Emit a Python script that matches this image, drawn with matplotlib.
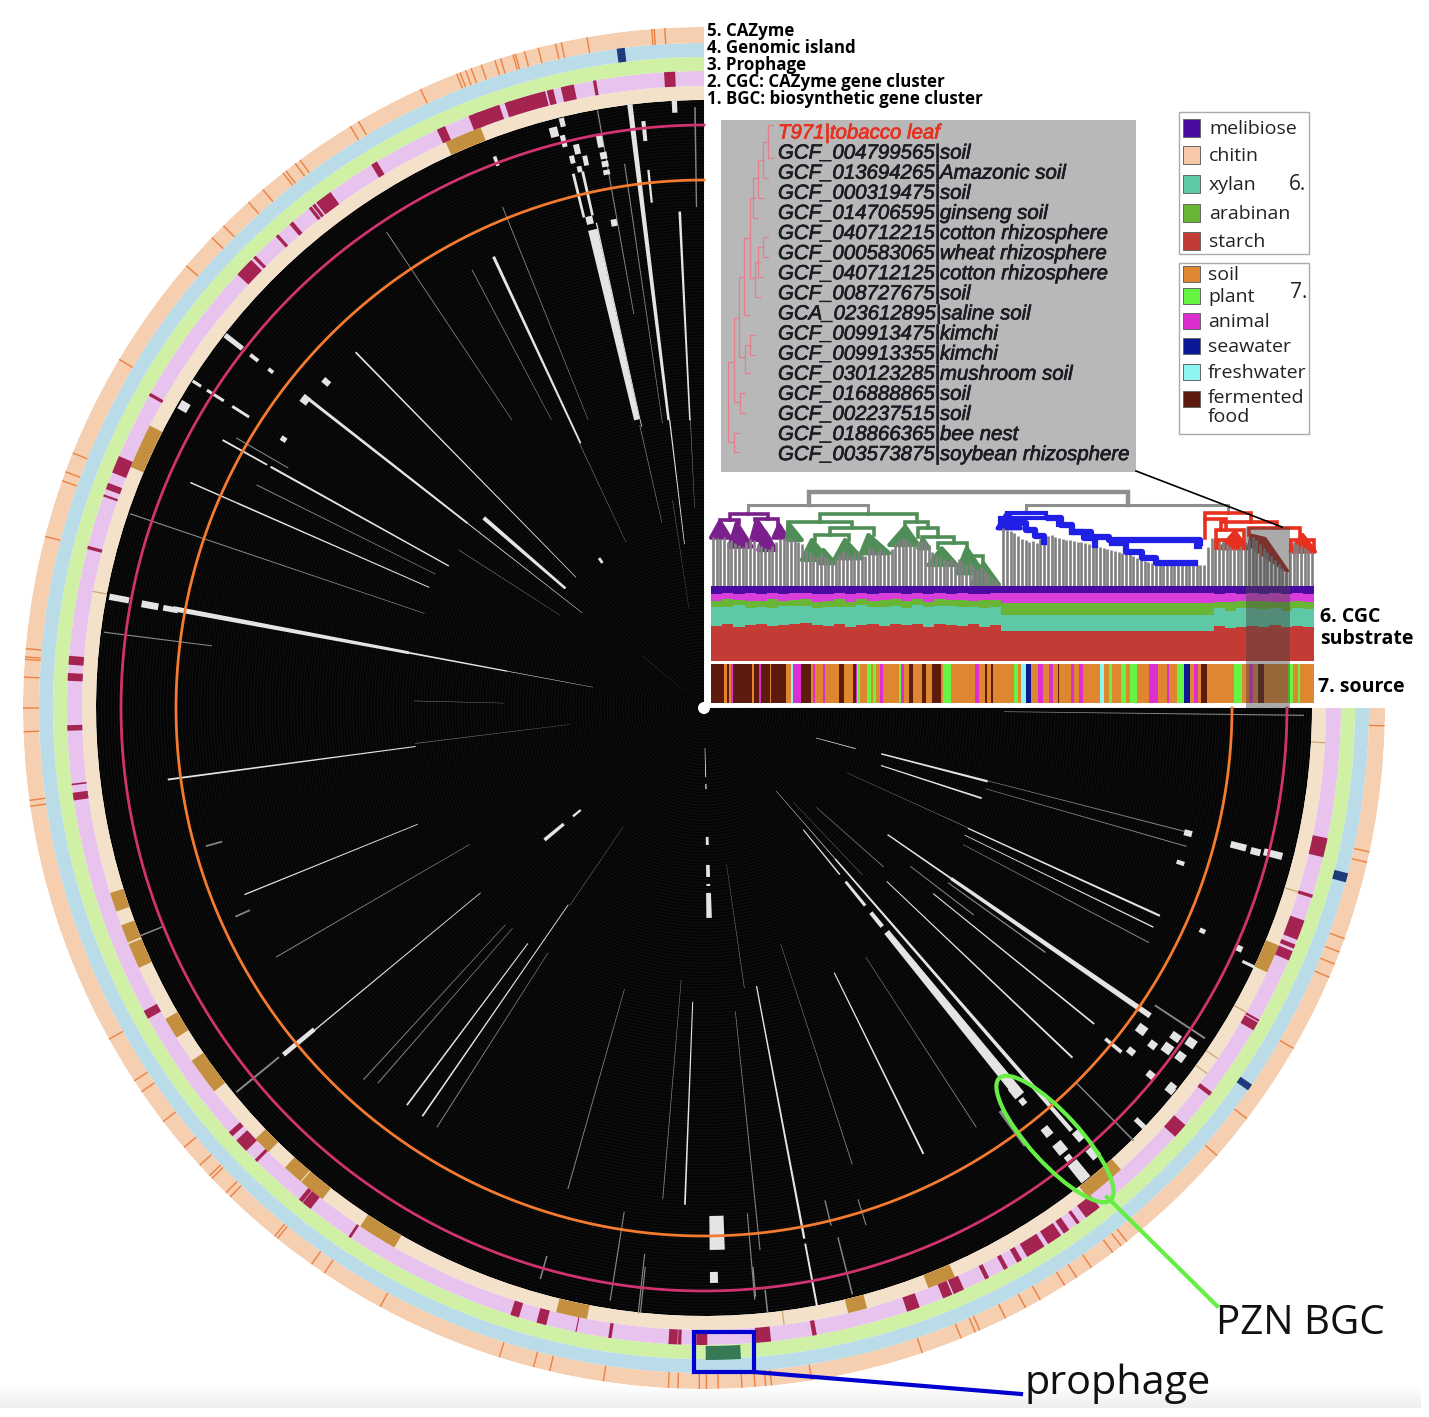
import numpy as np
import matplotlib
matplotlib.use('Agg')
import matplotlib.pyplot as plt
import matplotlib.patheffects as pe
from matplotlib.patches import Ellipse, Rectangle

# figure geometry (reference pixels)
W, H = 1429, 1417
CX, CY, RMAX = 704, 708, 681

# ring radii, inner to outer
ring_edges = [608, 622, 637, 651, 665, 681]
ring_colors = ['#F3E2C9', '#E8C3EE', '#D0F0A5', '#B9DCE8', '#F5CFB0']

# ring marks: angle (deg counter-clockwise from top) and angular width
bgc_angle = [3.1, 9.9, 12.4, 14.0, 16.2, 18.0, 19.0, 20.2, 21.2, 24.4, 31.2, 36.7, 37.8, 38.2, 40.4, 42.1, 44.9, 46.2,
             60.5, 67.5, 69.6, 70.5, 75.4, 85.7, 87.2, 91.8, 96.9, 98.0, 118.8, 132.0, 133.4, 135.3, 140.7, 141.4, 146.2,
             162.7, 165.2, 168.4, 171.5, 177.2, 177.8, 179.8, 185.2, 185.8, 190.0, 199.2, 202.5, 203.2, 203.6, 206.4,
             208.3, 209.7, 211.4, 213.4, 214.7, 216.0, 217.5, 218.1, 228.4, 232.7, 240.0, 240.6, 247.1, 248.0, 249.4,
             250.3, 252.8, 257.2, 258.0]
bgc_width = [1.0, 0.3, 1.2, 0.6, 3.5, 0.5, 0.5, 2.0, 1.0, 0.8, 0.6, 1.6, 0.3, 0.3, 0.4, 0.3, 0.3, 1.8,
             0.3, 1.6, 0.6, 0.2, 0.3, 0.8, 0.7, 0.5, 0.15, 0.7, 0.8, 0.5, 1.3, 0.3, 0.4, 0.9, 0.25,
             0.8, 0.9, 0.1, 0.3, 0.8, 0.3, 1.0, 1.0, 0.5, 0.4, 1.2, 0.9, 0.2, 1.0, 0.4,
             0.4, 0.5, 1.8, 1.4, 0.6, 0.3, 1.3, 0.6, 1.4, 0.4, 0.8, 0.2, 0.9, 0.4, 1.5,
             0.4, 0.3, 1.5, 0.4]
cgc_angle = [22.8, 65.1, 108.2, 111.3, 113.5, 121.0, 126.3, 134.7, 138.6, 140.9, 148.3, 167.7, 194.3, 201.5, 202.8,
             220.1, 246.2]
cgc_width = [3.5, 4.2, 1.8, 1.7, 2.4, 2.0, 3.5, 1.7, 1.9, 2.5, 3.7, 2.9, 1.8, 0.7, 2.0, 4.0, 2.7]
cgc_thin = [79.2, 187.4, 234.0, 235.7, 240.7, 252.8, 266.8]
prophage_angle = [181.7]
prophage_width = [3.1]
island_angle = [7.2, 235.2, 255.2]
island_width = [0.7, 0.6, 0.8]
cazyme_ticks = [3.3, 4.2, 4.4, 9.9, 12.1, 12.6, 14.1, 15.3, 16.1, 16.3, 17.4, 17.9, 19.1, 20.0, 20.5, 21.0, 21.3, 24.6,
                30.5, 31.3, 36.4, 36.9, 37.9, 38.2, 40.4, 42.0, 44.9, 46.3, 49.5, 59.2, 68.0, 69.7, 70.5, 75.4, 85.0,
                85.7, 85.9, 87.4, 90.0, 92.0, 97.8, 98.3, 119.1, 123.2, 124.3, 127.4, 130.2, 132.2, 133.4, 133.7, 135.4,
                135.9, 140.9, 141.2, 144.8, 146.1, 151.6, 162.5, 165.5, 166.9, 171.5, 177.0, 177.8, 179.6, 180.2, 181.2,
                183.2, 184.3, 185.2, 185.7, 189.1, 198.7, 202.2, 203.5, 203.9, 206.3, 208.2, 209.6, 212.0, 213.2, 214.7,
                216.9, 217.8, 218.4, 228.9, 232.9, 240.0, 246.7, 247.9, 249.0, 250.2, 256.9, 257.8, 268.5]

# presence blocks in the black heat map: (angle, angular width, inner r, outer r)
bright_marks = [
    (13.1, 1.1, 296, 491), (7.0, 0.5, 290, 608), (6.8, 0.25, 165, 290), (25.0, 0.35, 292, 498), (2.8, 0.3, 288, 497),
    (2.8, 0.5, 596, 608), (5.9, 0.25, 508, 541), (5.9, 0.4, 570, 590), (12.5, 0.15, 288, 497), (20.8, 0.35, 580, 590),
    (13.75, 0.3, 505, 550), (12.75, 0.3, 505, 550), (14.6, 0.8, 590, 600), (13.6, 0.5, 598, 607), (13.9, 0.5, 578, 590),
    (12.8, 0.6, 568, 578), (13.5, 0.5, 560, 568), (12.2, 0.5, 555, 565), (13.0, 0.5, 550, 556), (13.2, 0.8, 497, 505),
    (10.5, 0.7, 490, 497), (10.4, 0.6, 570, 582), (10.3, 0.7, 558, 565), (10.3, 0.7, 550, 556), (10.3, 0.7, 542, 547),
    (52.0, 0.35, 300, 501), (52.0, 0.18, 155, 300), (52.1, 0.4, 546, 552), (52.1, 0.4, 565, 575), (52.1, 0.5, 585, 607),
    (52.3, 1.0, 500, 508), (49.2, 0.8, 183, 291), (44.4, 0.2, 183, 498), (57.4, 0.3, 540, 560), (57.4, 0.3, 570, 590),
    (57.4, 0.3, 597, 607), (60.9, 0.25, 292, 496), (60.9, 0.2, 500, 551), (66.3, 0.18, 300, 510), (66.3, 0.15, 510, 561),
    (79.4, 0.55, 300, 540), (79.4, 0.35, 200, 300), (79.4, 0.18, 113, 200), (79.4, 0.6, 585, 605), (79.5, 0.7, 555, 572),
    (79.5, 0.6, 535, 550), (97.6, 0.2, 291, 541), (112.1, 0.15, 309, 496), (129.5, 0.5, 505, 545), (129.6, 0.15, 290, 505),
    (129.6, 1.0, 182, 207), (129.6, 0.8, 160, 170), (143.2, 0.2, 294, 496), (145.4, 0.2, 239, 496), (177.8, 0.2, 294, 497),
    (181.4, 1.6, 508, 542), (181.4, 1.5, 185, 210), (181.4, 1.2, 176, 178), (181.4, 1.3, 157, 169), (181.4, 1.2, 129, 137),
    (181.4, 0.9, 76, 81), (181.4, 0.8, 40, 69), (181.0, 0.8, 564, 575), (219.2, 1.2, 289, 500), (219.2, 0.9, 264, 282),
    (219.2, 0.7, 224, 255), (219.2, 0.4, 157, 215), (221.0, 0.45, 200, 560), (221.0, 0.2, 110, 200), (235.4, 0.6, 300, 542),
    (235.4, 0.35, 223, 300), (255.5, 0.45, 183, 293), (255.0, 0.3, 116, 157), (255.5, 0.7, 544, 560), (255.4, 0.7, 565, 575),
    (255.6, 0.7, 578, 597), (252.0, 0.35, 186, 292),
    (245.5, 0.25, 290, 501), (244.0, 0.15, 290, 500), (226.5, 0.22, 252, 508), (231.0, 0.2, 295, 502), (230.5, 0.4, 520, 541),
    (206.2, 0.22, 295, 497), (190.7, 0.25, 283, 540), (190.7, 0.2, 545, 609), (219.0, 0.9, 540, 550), (219.0, 1.1, 560, 572),
    (219.0, 0.7, 576, 582), (219.0, 1.1, 585, 607), (219.0, 1.0, 488, 500), (219.0, 0.7, 503, 510), (221.3, 1.0, 563, 574),
    (221.2, 1.0, 585, 597), (226.4, 0.5, 596, 608), (230.7, 0.7, 598, 607), (233.7, 1.0, 538, 548), (233.1, 0.8, 557, 565),
    (233.7, 1.0, 570, 580), (233.8, 0.9, 586, 595), (235.5, 0.9, 586, 596), (235.1, 0.8, 570, 580), (230.6, 0.7, 574, 582),
    (231.2, 0.7, 544, 552), (231.0, 0.7, 598, 606), (245.8, 0.6, 582, 590), (245.9, 0.5, 543, 549), (244.8, 0.3, 595, 609),
    (252.0, 0.5, 497, 505), (255.5, 0.7, 496, 504), (35.0, 0.9, 177, 183), (49.2, 0.7, 495, 503), (59.9, 0.9, 596, 606),
    (57.4, 0.6, 496, 502),
]
gray_marks = [
    (10.1, 0.12, 400, 607), (8.3, 0.12, 288, 550), (0.86, 0.15, 501, 601), (21.9, 0.1, 311, 540), (27.9, 0.1, 326, 496),
    (33.7, 0.1, 346, 572), (25.2, 0.12, 183, 292), (57.2, 0.12, 171, 292), (63.5, 0.12, 300, 500), (71.3, 0.12, 295, 606),
    (82.8, 0.12, 496, 605), (49.6, 0.15, 26, 80), (12.8, 0.15, 190, 290), (2.7, 0.12, 200, 290), (8.6, 0.12, 100, 210),
    (60.0, 0.12, 480, 540), (137.5, 0.12, 294, 504), (139.0, 0.12, 292, 497), (147.5, 0.12, 290, 497), (164.2, 0.12, 292, 500),
    (175.2, 0.1, 273, 493), (171.0, 0.12, 510, 600), (173.8, 0.12, 549, 609), (164.0, 0.15, 570, 594), (120.2, 0.12, 271, 495),
    (145.8, 0.12, 144, 239), (129.4, 0.2, 550, 605), (185.9, 0.12, 305, 545), (188.2, 0.12, 158, 283), (198.0, 0.1, 248, 480),
    (213.0, 0.1, 297, 500), (216.4, 0.6, 500, 543), (255.6, 0.12, 293, 499), (254.0, 0.12, 293, 502), (242.2, 0.12, 293, 503),
    (245.6, 0.12, 157, 290), (224.8, 0.15, 529, 610), (269.3, 0.12, 300, 600), (184.9, 0.12, 507, 594), (185.0, 0.15, 561, 591),
    (186.0, 0.15, 585, 608), (193.8, 0.15, 507, 533), (197.4, 0.12, 515, 542), (194.2, 0.15, 546, 605), (174.0, 0.12, 562, 608),
    (97.0, 0.12, 135, 291), (105.5, 0.2, 500, 517), (114.0, 0.2, 497, 513), (112.0, 0.15, 584, 609), (88.6, 0.1, 200, 290),
    (236.6, 0.2, 540, 600), (234.4, 0.2, 300, 420), (232.5, 0.2, 260, 340), (228.5, 0.2, 150, 240), (223.5, 0.12, 130, 230),
]

# phylogeny above the stacks: height of each of the 162 leaves
leaf_height = [49, 48, 47, 49, 44, 46, 43, 41, 39, 44, 47, 46, 42, 40, 38, 37, 40, 44, 47, 48, 47,
               47, 46, 44, 42, 36, 34, 31, 29, 33, 30, 27, 25, 28, 32, 35, 33, 30, 33, 35, 31, 30,
               39, 37, 34, 38, 35, 33, 37, 43, 46, 48, 46, 44, 42, 45, 47, 45, 41,
               34, 31, 29, 27, 25, 27, 24, 27, 25, 22, 23, 20, 17, 19, 15, 12, 9, 6, 3,
               58, 56, 55, 53, 50, 47, 46, 44, 45, 43, 47, 49, 50, 51, 49, 48,
               47, 46, 46, 45, 44, 44, 43, 42, 41, 41, 39, 38, 37, 36, 35, 34, 33, 33, 32,
               30, 28, 26, 25, 24, 23, 22, 21, 21, 21, 21, 21, 21, 21, 21, 21, 21, 21, 21, 21, 39,
               48, 47, 46, 45, 42, 40, 38, 37, 40, 44, 47, 49, 46, 42, 38, 34, 30, 26, 22, 18, 14,
               43, 44, 42, 40, 38, 36, 34]

# clade brackets: left leaf, right leaf, node height, left child height, right child height
gray_nodes = [(26.2, 112, 93.7, 81, 81)]
gray_thin_nodes = [(10, 42.3, 81, 71.7, 71.7), (84.5, 139, 81, 72.7, 72.7)]
purple_nodes = [(5.1, 15.4, 71.7, 66, 66.7), (2.4, 7.4, 66, 64.3, 62.7), (11.8, 18.1, 66.7, 66, 61)]
green_nodes = [(29.3, 55.3, 71.7, 64.3, 64.3), (20.8, 37.8, 64.3, 62.7, 57.7), (32, 43.7, 57.7, 51, 51), (28, 37, 51, 46, 46),
               (52.2, 58.4, 64.3, 59.3, 57.7), (55.7, 61.1, 57.7, 49.3, 49.3), (56.6, 65.2, 49.3, 46, 42.7), (61.1, 68.7, 42.7, 37.7, 37.7),
               (68.7, 73.2, 30, 37.7, 22.7)]
blue_nodes = [(79.5, 90.1, 72.7, 67.7, 67.7), (77.6, 93.25, 67.7, 57.7, 61), (130.4, 131.4, 42.7, 39, 39)]
red_nodes = [(132.6, 145.1, 72.7, 66.7, 64.3), (132.6, 138.25, 66.7, 47.7, 56), (137, 152, 64.3, 56, 57.7), (135.75, 143.25, 56, 38, 38),
             (144.5, 158.25, 57.7, 51, 46), (155.75, 162, 46, 36, 36), (136, 140, 46, 38, 40)]
# collapsed subclades: apex leaf, apex height, base left, base right, base height
purple_blobs = [(2.4, 64.3, 0, 5.1, 48.3), (6.9, 62.7, 4.9, 10.9, 39.3), (12.3, 66, 10.8, 15.9, 46), (14.5, 54.3, 12.7, 17.4, 36),
                (18.3, 61, 16.8, 20.4, 48.3)]
green_blobs = [(20.8, 62.7, 20.4, 24.4, 46), (27.1, 46, 24.4, 31.6, 26), (30.2, 36, 28.9, 33.3, 22.7), (36, 46, 33.3, 40.5, 27.7),
               (42.3, 51, 40.3, 47.9, 32.7), (52.2, 59.3, 47.9, 55.7, 41), (57.1, 46, 55.7, 58.6, 37.7), (62, 37.7, 58.4, 66, 21),
               (68.7, 37.7, 66, 73.2, 12.7), (73.2, 22.7, 70.1, 77.3, 1.7)]
blue_blobs = [(79.5, 72.7, 77, 83.25, 57.7)]
red_blobs = [(140.75, 54.3, 137, 143.9, 37.7), (158.9, 51, 155.75, 162.25, 34.3)]
blue_ladder_leaf = [[82, 84.5, 87, 89.5], [90.75, 93.9, 97, 100.1, 103.25], [97, 102, 107, 131.4],
                    [107.6, 111.4, 115.75, 119.5, 130.1]]
blue_ladder_height = [[62.7, 56, 50, 44.3], [67.7, 61, 54.3, 47.7, 41], [54.3, 49.3, 46, 42.7],
                      [42.7, 34.3, 27.7, 22.7, 22.7]]
darkred_leaf = [145.1, 148.9, 155.1, 153.25, 144.5]
darkred_height = [51, 47.7, 14.3, 17.7, 41]

# CGC substrate share in groups of 3 leaves
melibiose_share = [11, 10, 11, 10, 11, 10, 11, 10, 10, 11, 11, 10, 11, 10, 11, 10, 10, 11, 10, 11, 10, 11, 10, 11, 11, 10,
                   9, 9, 9, 9, 9, 9, 9, 9, 9, 9, 9, 9, 9, 9, 9, 9, 9, 9, 9,
                   11, 10, 11, 10, 11, 10, 11, 10, 11]
chitin_share = [9, 8, 8, 10, 9, 7, 9, 9, 8, 10, 9, 8, 10, 7, 9, 9, 8, 9, 7, 10, 8, 8, 9, 9, 8, 9,
                14, 14, 14, 14, 14, 14, 14, 14, 14, 14, 14, 14, 14, 14, 14, 14, 14, 14, 14,
                10, 11, 9, 10, 9, 11, 10, 10, 10]
arabinan_share = [8, 10, 7, 9, 8, 12, 7, 8, 9, 8, 8, 10, 7, 9, 8, 9, 9, 10, 8, 7, 9, 8, 9, 8, 10, 9,
                  15.5, 15.5, 15.5, 15.5, 15.5, 15.5, 15.5, 15.5, 15.5, 15.5, 15.5, 15.5, 15.5, 15.5, 15.5, 15.5, 15.5, 15.5, 15.5,
                  9, 13, 10, 9, 11, 8, 12, 9, 10]
xylan_share = [25, 23, 28, 23, 22, 24, 25, 24, 22, 23, 25, 22, 26, 26, 23, 25, 23, 22, 25, 26, 24, 25, 25, 23, 25, 24,
               22, 22, 22, 22, 22, 22, 22, 22, 22, 22, 22, 22, 22, 22, 22, 22, 22, 22, 22,
               23, 22, 24, 24, 24, 23, 21, 24, 23]
starch_share = [47, 49, 46, 48, 50, 47, 48, 49, 51, 48, 47, 50, 46, 48, 49, 47, 50, 48, 50, 46, 49, 48, 47, 49, 46, 48,
                39.5, 39.5, 39.5, 39.5, 39.5, 39.5, 39.5, 39.5, 39.5, 39.5, 39.5, 39.5, 39.5, 39.5, 39.5, 39.5, 39.5, 39.5, 39.5,
                47, 44, 46, 47, 45, 48, 46, 47, 46]

# isolation source along the leaves: end leaf of each run and its class
source_end = [3.5, 4.25, 4.75, 5.25, 6, 11, 11.5, 12.9, 13.4, 15.75,
              16.1, 20.1, 21.4, 22, 24.25, 26.75, 27.4, 28, 30.1, 30.5,
              34.5, 35.75, 38.25, 38.9, 39.25, 40.1, 42, 43, 43.6, 44.25,
              45.5, 46.1, 50.5, 51.1, 51.75, 53.25, 54.25, 56.75, 57.75, 59.5,
              61.75, 62.25, 64.5, 66.75, 71, 72, 73.5, 74.1, 75.1, 75.75,
              81.4, 82.6, 83.25, 84.5, 86.1, 87.9, 89.1, 90.75, 92, 93.25,
              93.6, 96.6, 97.6, 98.9, 99.9, 104.5, 105.5, 107, 107.75, 110.1,
              111.4, 112.6, 114.5, 117.6, 120.1, 122.6, 123, 125.1, 127, 128.6,
              129.75, 130.75, 131.75, 133.25, 140.4, 142.6, 144.5, 145.5, 147, 148.6,
              155.1, 156.4, 157.6, 158.25, 162]
source_class = list('FSFSAFSFAF' 'SFSWAFSASA' 'SFSFAPSPSP' 'SASPASFSFS' 'FSPSSASFSF'
                    'SPSWKSASAS' 'FSASASWSPS' 'PSPSASASPK' 'SASFSPSASF' 'SPSPS')
source_colors = {'S': '#DE8730', 'P': '#66F542', 'A': '#DD2FD1', 'K': '#0A1A96', 'W': '#8FF5F0', 'F': '#5E1A0C'}

# inset tree: vertical x, first and last row
inset_x = [768, 763, 758, 753, 763, 758, 755, 750, 744, 750, 745, 739, 734, 740, 728, 734]
inset_top = [0, 0.83, 1.75, 2.67, 5.58, 6.08, 6.83, 3.67, 5.67, 10.5, 11, 7.58, 9.67, 13.42, 11.83, 15.42]
inset_bottom = [1.67, 2.67, 3.67, 4.67, 6.58, 7.58, 8.58, 7.67, 9.5, 11.5, 12.4, 11.58, 13.83, 14.42, 15.83, 16.33]
genome_labels = ['T971|tobacco leaf', 'GCF_004799565|soil', 'GCF_013694265|Amazonic soil', 'GCF_000319475|soil',
                 'GCF_014706595|ginseng soil', 'GCF_040712215|cotton rhizosphere', 'GCF_000583065|wheat rhizosphere',
                 'GCF_040712125|cotton rhizosphere', 'GCF_008727675|soil', 'GCA_023612895|saline soil',
                 'GCF_009913475|kimchi', 'GCF_009913355|kimchi', 'GCF_030123285|mushroom soil', 'GCF_016888865|soil',
                 'GCF_002237515|soil', 'GCF_018866365|bee nest', 'GCF_003573875|soybean rhizosphere']
track_labels = ['5. CAZyme', '4. Genomic island', '3. Prophage', '2. CGC: CAZyme gene cluster',
                '1. BGC: biosynthetic gene cluster']
substrate_names = ['melibiose', 'chitin', 'xylan', 'arabinan', 'starch']
substrate_colors = ['#4A0CA0', '#F7C9A8', '#5FC8A6', '#69B535', '#C43B35']
source_names = ['soil', 'plant', 'animal', 'seawater', 'freshwater', 'fermented\nfood']
source_swatches = ['#DE8730', '#66F542', '#DD2FD1', '#0A1A96', '#8FF5F0', '#5E1A0C']

plt.rcParams['font.family'] = ['Open Sans', 'DejaVu Sans']
fig = plt.figure(figsize=(W / 100, H / 100), dpi=100, facecolor='white')


def rect_px(x0, y0, x1, y1):
    return [x0 / W, 1 - y1 / H, (x1 - x0) / W, (y1 - y0) / H]


# faint grey band along the bottom edge of the picture
ax_bg = fig.add_axes([0, 0, 1, 1], zorder=0)
ax_bg.imshow(np.linspace(1, 0.93, 24).reshape(-1, 1), cmap='gray', vmin=0, vmax=1, aspect='auto',
             extent=(0, 1421, 1408, 1384))
ax_bg.set_xlim(0, W)
ax_bg.set_ylim(H, 0)
ax_bg.axis('off')

# circular map
ax = fig.add_axes(rect_px(CX - RMAX, CY - RMAX, CX + RMAX, CY + RMAX), projection='polar', zorder=1)
ax.set_theta_zero_location('N')
ax.set_theta_direction(1)
ax.axis('off')
rad = np.deg2rad


def sectors(angle, width, r0, r1, color, z=1):
    ax.bar(rad(np.asarray(angle)), np.asarray(r1) - np.asarray(r0), width=rad(np.asarray(width)), bottom=r0,
           color=color, linewidth=0, zorder=z)


sectors([135], [270], [0], [ring_edges[0]], '#050505', z=0.5)
for i, col in enumerate(ring_colors):
    sectors([135], [270], [ring_edges[i]], [ring_edges[i + 1]], col, z=0.5)

# faint genome rows inside the black disc
theta = rad(np.linspace(0, 270, 1500))
for r in np.arange(4, 606, 3.1):
    ax.plot(theta, np.full_like(theta, r), color='#181818', lw=0.35, zorder=0.6)

for marks, col in [(gray_marks, '#858585'), (bright_marks, '#E4E4E4')]:
    a, w, r0, r1 = map(np.array, zip(*marks))
    sectors(a, w, r0, r1, col)

sectors(cgc_angle, cgc_width, [608] * len(cgc_angle), [622] * len(cgc_angle), '#C48F3F')
sectors(cgc_thin, [0.12] * len(cgc_thin), [608] * len(cgc_thin), [622] * len(cgc_thin), '#CFA877')
sectors(bgc_angle, bgc_width, [622] * len(bgc_angle), [637] * len(bgc_angle), '#A52350')
sectors(prophage_angle, prophage_width, [638], [652], '#357A55')
sectors(island_angle, island_width, [651] * 3, [665] * 3, '#1F3A7A')
sectors(cazyme_ticks, [0.12] * len(cazyme_ticks), [665] * len(cazyme_ticks), [681] * len(cazyme_ticks), '#EC8244')

ax.plot(theta, np.full_like(theta, 583), color='#D0336F', lw=2, zorder=2)
ax.plot(theta, np.full_like(theta, 528), color='#F47B30', lw=2, zorder=2)
ax.set_rlim(0, RMAX)

# phylogeny
n_leaf = len(leaf_height)
ax_tree = fig.add_axes(rect_px(711, 490, 1314, 586), zorder=2)
ax_tree.set_xlim(0, n_leaf)
ax_tree.set_ylim(0, 96)
ax_tree.axis('off')
ax_tree.patch.set_alpha(0)
ax_tree.vlines(np.arange(n_leaf) + 0.5, 0, leaf_height, color='#808080', lw=1.9)


def draw_nodes(nodes, col, lw):
    for left, right, h, hl, hr in nodes:
        ax_tree.plot([left, left, right, right], [hl, h, h, hr], color=col, lw=lw, solid_joinstyle='miter',
                     clip_on=False)


def draw_blobs(blobs, col):
    for apex, top, left, right, base in blobs:
        ax_tree.fill([apex, right, left], [top, base, base], facecolor=col, edgecolor=col, lw=3,
                     joinstyle='round', clip_on=False)


draw_nodes(gray_nodes, '#8e8e8e', 3.2)
draw_nodes(gray_thin_nodes, '#8e8e8e', 2.2)
draw_nodes(purple_nodes, '#7A1F8C', 2.6)
draw_nodes(green_nodes, '#4F8F57', 2.6)
draw_nodes(blue_nodes, '#1F1FE6', 3)
draw_nodes(red_nodes, '#E8301E', 2.6)
draw_blobs(purple_blobs, '#7A1F8C')
draw_blobs(green_blobs, '#4F8F57')
draw_blobs(blue_blobs, '#1F1FE6')
draw_blobs(red_blobs, '#E8301E')
for xs, ys in zip(blue_ladder_leaf, blue_ladder_height):
    ax_tree.step(xs, ys, where='post', color='#1F1FE6', lw=4.5, clip_on=False)
ax_tree.fill(darkred_leaf, darkred_height, facecolor='#A8241E', edgecolor='#A8241E', lw=2, clip_on=False)

# substrate stacks
ax_stack = fig.add_axes(rect_px(711, 586, 1314, 661), zorder=2)
ax_stack.set_xlim(0, 162)
ax_stack.set_ylim(0, 100)
ax_stack.axis('off')
group_x = np.arange(len(starch_share) + 1) * 3
shares = [starch_share, xylan_share, arabinan_share, chitin_share, melibiose_share]
ax_stack.stackplot(group_x, [s + s[-1:] for s in shares], colors=['#C43B35', '#5FC8A6', '#69B535', '#DA3EDA', '#4A0CA0'],
                   step='post', linewidth=0)

# source strip
ax_src = fig.add_axes(rect_px(711, 664, 1314, 703), zorder=2)
ax_src.set_xlim(0, 162)
ax_src.set_ylim(0, 1)
ax_src.axis('off')
source_start = [0] + source_end[:-1]
ax_src.bar(source_start, 1, width=np.array(source_end) - np.array(source_start), align='edge', linewidth=0,
           color=[source_colors[c] for c in source_class])

# overlay for inset, legends and callouts
ov = fig.add_axes([0, 0, 1, 1], zorder=5)
ov.set_xlim(0, W)
ov.set_ylim(H, 0)
ov.axis('off')
ov.patch.set_alpha(0)

ov.add_patch(Rectangle((721, 120), 415, 352, facecolor='#B8B8B8', edgecolor='none'))
for x, top, bot in zip(inset_x, inset_top, inset_bottom):
    y0, y1 = 125 + top * 20, 125 + bot * 20
    ov.plot([x + 5, x, x, x + 5], [y0, y0, y1, y1], color='#E57F8C', lw=0.9)
for i, lab in enumerate(genome_labels):
    col = '#E8301E' if i == 0 else '#1c1c24'
    ov.text(778, 133 + 20.1 * i, lab, family='Liberation Sans', style='italic', fontsize=14.7, color=col, va='center', ha='left',
            path_effects=[pe.withStroke(linewidth=0.5, foreground=col)])

ov.plot([1136, 1282], [471, 527], color='black', lw=1.2)
ov.add_patch(Rectangle((1246.5, 527), 43.5, 181, facecolor='#444444', alpha=0.45, edgecolor='none'))

for i, lab in enumerate(track_labels):
    ov.text(707, 31 + 17 * i, lab, fontsize=12.2, fontweight='bold', color='black', va='center', ha='left')

ov.text(1320, 617, '6. CGC', fontsize=14, fontweight='bold', va='center', ha='left')
ov.text(1320, 639, 'substrate', fontsize=14, fontweight='bold', va='center', ha='left')
ov.text(1318, 687, '7. source', fontsize=14, fontweight='bold', va='center', ha='left')

# legends
ov.add_patch(Rectangle((1179, 112), 130, 142, facecolor='white', edgecolor='#ababab', lw=1))
ov.add_patch(Rectangle((1179, 263), 130, 171, facecolor='white', edgecolor='#ababab', lw=1))
sub_y = [128, 155, 184, 213, 241]
for name, col, y in zip(substrate_names, substrate_colors, sub_y):
    ov.add_patch(Rectangle((1183, y - 9), 17, 18, facecolor=col, edgecolor='#666666', lw=0.7))
    ov.text(1209, y + 1, name, fontsize=14, color='#222222', va='center', ha='left')
ov.text(1289, 184, '6.', fontsize=15, color='#222222', va='center', ha='left')
src_y = [274, 296, 321, 346, 372, 399]
for name, col, y in zip(source_names, source_swatches, src_y):
    ov.add_patch(Rectangle((1183, y - 8), 17, 16, facecolor=col, edgecolor='#666666', lw=0.7))
    ov.text(1208, y + 1 if '\n' not in name else y - 10, name, fontsize=14, color='#222222', va='top' if '\n' in name else 'center',
            ha='left', linespacing=1.05)
ov.text(1290, 292, '7.', fontsize=15, color='#222222', va='center', ha='left')

# callouts
ov.add_patch(Ellipse((1055, 1139), 165, 50, angle=47.6, facecolor='none', edgecolor='#66EE44', lw=3))
ov.plot([1107, 1217], [1197, 1306], color='#66EE44', lw=3)
ov.add_patch(Rectangle((694, 1332), 60, 40, facecolor='none', edgecolor='#0000D0', lw=3))
ov.plot([754, 1021], [1372, 1394], color='#0000D0', lw=3)
ov.text(1216, 1324, 'PZN BGC', fontsize=29, color='#111111', va='center', ha='left')
ov.text(1025, 1384, 'prophage', fontsize=29.8, color='#111111', va='center', ha='left')

# hub of the map
ov.add_patch(plt.Circle((CX, CY), 6, facecolor='white', edgecolor='none'))

fig.savefig('out.png', dpi=100)
